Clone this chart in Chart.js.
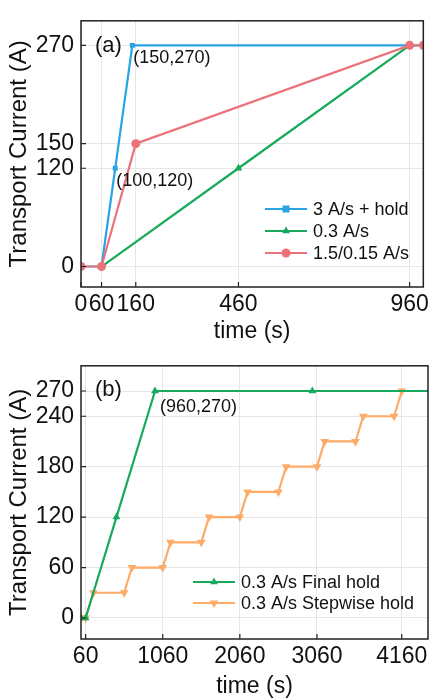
<!DOCTYPE html>
<html>
<head>
<meta charset="utf-8">
<script src="https://cdn.jsdelivr.net/npm/chart.js@4.4.1/dist/chart.umd.min.js"></script>
<style>
  html, body { margin: 0; padding: 0; background: #fff; }
  #wrap { position: relative; width: 433px; height: 700px; }
  canvas { position: absolute; left: 0; }
  #chartA { top: 0; }
  #chartB { top: 345px; }
</style>
</head>
<body>
<div id="wrap">
  <canvas id="chartA" width="433" height="345"></canvas>
  <canvas id="chartB" width="433" height="355"></canvas>
</div>
<script>
// panel (a)
const timeFastHold = [0, 60, 100, 150, 960, 1000];
const currFastHold = [0, 0, 120, 270, 270, 270];
const timeSlowA = [60, 460, 960];
const currSlowA = [0, 120, 270];
const timeTwoRate = [0, 60, 160, 960, 1000];
const currTwoRate = [0, 0, 150, 270, 270];
const xTicksA = [0, 60, 160, 460, 960];
const yTicksA = [0, 120, 150, 270];
const notesA = [
  { x: 150, y: 270, text: '(150,270)' },
  { x: 100, y: 120, text: '(100,120)' }
];

// panel (b)
const timeFinalHold = [0, 60, 460, 960, 3000, 4560];
const currFinalHold = [0, 0, 120, 270, 270, 270];
const timeStepHold = [0, 60, 160, 560, 660, 1060, 1160, 1560, 1660, 2060, 2160, 2560, 2660, 3060, 3160, 3560, 3660, 4060, 4160, 4560];
const currStepHold = [0, 0, 30, 30, 60, 60, 90, 90, 120, 120, 150, 150, 180, 180, 210, 210, 240, 240, 270, 270];
const xTicksB = [60, 1060, 2060, 3060, 4160];
const yTicksB = [0, 60, 120, 180, 240, 270];
const notesB = [
  { x: 960, y: 270, text: '(960,270)' }
];

const FONT = "'Liberation Sans', Arial, sans-serif";
const BLUE = '#28a4e4';
const GREEN = '#17a95c';
const RED = '#eb7279';
const ORANGE = '#fdab68';

function pairs(xs, ys) {
  return xs.map((x, i) => ({ x, y: ys[i] }));
}

function drawMarker(ctx, style, x, y, r, rot) {
  ctx.beginPath();
  if (style === 'rect') {
    ctx.rect(x - r, y - r, 2 * r, 2 * r);
  } else if (style === 'triangle') {
    let a = (rot || 0) * Math.PI / 180;
    ctx.moveTo(x + Math.sin(a) * r, y - Math.cos(a) * r);
    a += 2 * Math.PI / 3;
    ctx.lineTo(x + Math.sin(a) * r, y - Math.cos(a) * r);
    a += 2 * Math.PI / 3;
    ctx.lineTo(x + Math.sin(a) * r, y - Math.cos(a) * r);
    ctx.closePath();
  } else {
    ctx.arc(x, y, r, 0, Math.PI * 2);
  }
  ctx.fill();
}

const decor = {
  id: 'decor',
  afterDraw(chart, args, opts) {
    const ctx = chart.ctx;
    const area = chart.chartArea;
    const xs = chart.scales.x;
    const ys = chart.scales.y;
    ctx.save();

    // frame
    ctx.strokeStyle = '#222';
    ctx.lineWidth = 1.5;
    ctx.strokeRect(area.left, area.top, area.right - area.left, area.bottom - area.top);

    // inward ticks
    ctx.lineWidth = 1.2;
    ctx.beginPath();
    xs.ticks.forEach(t => {
      const px = xs.getPixelForValue(t.value);
      ctx.moveTo(px, area.bottom);
      ctx.lineTo(px, area.bottom - 5);
    });
    ys.ticks.forEach(t => {
      const py = ys.getPixelForValue(t.value);
      ctx.moveTo(area.left, py);
      ctx.lineTo(area.left + 5, py);
    });
    ctx.stroke();

    // panel tag
    ctx.fillStyle = '#111';
    ctx.font = '22px ' + FONT;
    ctx.textAlign = 'left';
    ctx.textBaseline = 'middle';
    ctx.fillText(opts.tag, area.left + 14, area.top + opts.tagDy);

    // point notes
    ctx.font = '18px ' + FONT;
    opts.notes.forEach(n => {
      const px = xs.getPixelForValue(n.x);
      const py = ys.getPixelForValue(n.y);
      ctx.fillText(n.text, px + opts.noteDx, py + opts.noteDy);
    });

    // legend
    const lg = opts.legend;
    ctx.font = '18px ' + FONT;
    lg.items.forEach((idx, i) => {
      const ds = chart.data.datasets[idx];
      const y = lg.y + i * lg.gap;
      ctx.strokeStyle = ds.borderColor;
      ctx.lineWidth = 2;
      ctx.beginPath();
      ctx.moveTo(lg.x, y);
      ctx.lineTo(lg.x + lg.len, y);
      ctx.stroke();
      ctx.fillStyle = ds.borderColor;
      drawMarker(ctx, ds.pointStyle, lg.x + lg.len / 2, y, ds.pointRadius, ds.rotation);
      ctx.fillStyle = '#111';
      ctx.fillText(ds.label, lg.x + lg.len + 6, y + 1);
    });
    ctx.restore();
  }
};

function makeScales(xMin, xMax, xTicks, yTicks, xHeight) {
  const tickFont = { family: FONT, size: 23 };
  return {
    x: {
      type: 'linear',
      min: xMin,
      max: xMax,
      afterBuildTicks: s => { s.ticks = xTicks.map(v => ({ value: v })); },
      afterFit: s => { s.height = xHeight; },
      ticks: {
        autoSkip: false,
        maxRotation: 0,
        padding: 4,
        color: '#111',
        font: tickFont,
        callback: v => String(v)
      },
      grid: { color: '#e6e6e6', lineWidth: 1, drawTicks: false },
      border: { display: false },
      title: {
        display: true,
        text: 'time (s)',
        color: '#111',
        font: { family: FONT, size: 23, lineHeight: 1.2 },
        padding: { top: 0, bottom: 0 }
      }
    },
    y: {
      type: 'linear',
      min: -25,
      max: 300,
      afterBuildTicks: s => { s.ticks = yTicks.map(v => ({ value: v })); },
      afterFit: s => { s.width = 81; },
      ticks: {
        autoSkip: false,
        padding: 7,
        color: '#111',
        font: tickFont,
        callback: v => String(v)
      },
      grid: { color: '#e6e6e6', lineWidth: 1, drawTicks: false },
      border: { display: false },
      title: {
        display: true,
        text: 'Transport Current (A)',
        color: '#111',
        font: { family: FONT, size: 24, lineHeight: 1.2 },
        padding: { top: 5, bottom: 0 }
      }
    }
  };
}

function lineSet(label, xs, ys, color, style, radius, rot, order) {
  return {
    label,
    data: pairs(xs, ys),
    borderColor: color,
    backgroundColor: color,
    borderWidth: 2.2,
    pointStyle: style,
    pointRadius: radius,
    pointHoverRadius: radius,
    pointBorderWidth: 0,
    rotation: rot,
    tension: 0,
    clip: 0,
    order
  };
}

new Chart(document.getElementById('chartA'), {
  type: 'line',
  data: {
    datasets: [
      lineSet('3 A/s + hold', timeFastHold, currFastHold, BLUE, 'rect', 3.5, 0, 2),
      lineSet('0.3 A/s', timeSlowA, currSlowA, GREEN, 'triangle', 4.5, 0, 1),
      lineSet('1.5/0.15 A/s', timeTwoRate, currTwoRate, RED, 'circle', 4.5, 0, 0)
    ]
  },
  options: {
    responsive: false,
    animation: false,
    layout: { padding: { top: 6, right: 5, left: 0, bottom: 0 } },
    scales: makeScales(0, 1000, xTicksA, yTicksA, 58),
    plugins: {
      legend: { display: false },
      tooltip: { enabled: false },
      decor: {
        tag: '(a)',
        tagDy: 25,
        notes: notesA,
        noteDx: 1,
        noteDy: 13,
        legend: { items: [0, 1, 2], x: 265, y: 209, gap: 22, len: 42 }
      }
    }
  },
  plugins: [decor]
});

new Chart(document.getElementById('chartB'), {
  type: 'line',
  data: {
    datasets: [
      lineSet('0.3 A/s Final hold', timeFinalHold, currFinalHold, GREEN, 'triangle', 4.5, 0, 0),
      lineSet('0.3 A/s Stepwise hold', timeStepHold, currStepHold, ORANGE, 'triangle', 5, 180, 1)
    ]
  },
  options: {
    responsive: false,
    animation: false,
    layout: { padding: { top: 14, right: 5, left: 0, bottom: 0 } },
    scales: makeScales(0, 4500, xTicksB, yTicksB, 61),
    plugins: {
      legend: { display: false },
      tooltip: { enabled: false },
      decor: {
        tag: '(b)',
        tagDy: 24,
        notes: notesB,
        noteDx: 5,
        noteDy: 16,
        legend: { items: [0, 1], x: 193, y: 237, gap: 21, len: 42 }
      }
    }
  },
  plugins: [decor]
});
</script>
</body>
</html>
